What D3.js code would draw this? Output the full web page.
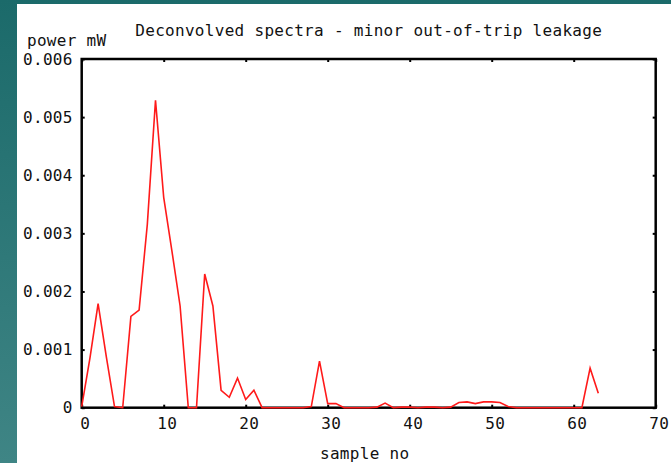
<!DOCTYPE html>
<html>
<head>
<meta charset="utf-8">
<script src="https://cdn.jsdelivr.net/npm/d3@7"></script>
<style>
  html, body { margin: 0; padding: 0; }
  body { width: 671px; height: 463px; overflow: hidden; }
  text { font-family: "DejaVu Sans Mono", "Liberation Mono", monospace; font-size: 16px; letter-spacing: 0.3px; fill: #111; }
</style>
</head>
<body>
<div id="chartCtn"></div>
<script>
// sample index and deconvolved power (mW)
var samples = d3.range( 64 );
var power = [
	0.00002, 0.00085, 0.00179, 0.00088, 0.00002, 0, 0.00157, 0.00168,
	0.00315, 0.00529, 0.00362, 0.00270, 0.00175, 0, 0, 0.00230,
	0.00175, 0.00030, 0.00018, 0.00051, 0.00014, 0.00030, 0, 0,
	0, 0, 0, 0, 0.00002, 0.00080, 0.00007, 0.00007,
	0, 0, 0, 0, 0.00001, 0.00008, 0, 0.00001,
	0.00001, 0, 0.00001, 0.00001, 0, 0.00001, 0.00009, 0.00010,
	0.00007, 0.00010, 0.00010, 0.00009, 0.00002, 0, 0, 0,
	0, 0, 0, 0, 0, 0, 0.00068, 0.00025
];
var xTicks = [ 0, 10, 20, 30, 40, 50, 60, 70 ];
var yTicks = [ 0, 0.001, 0.002, 0.003, 0.004, 0.005, 0.006 ];
var title = "Deconvolved spectra - minor out-of-trip leakage";
var xLabel = "sample no";
var yLabel = "power mW";

var width = 671, height = 463;
var plotLeft = 81.7, plotRight = 655.7, plotTop = 59, plotBottom = 407.7;

var svg = d3.select( "#chartCtn" )
	.append( "svg" )
	.attr( "width", width )
	.attr( "height", height );

var grad = svg.append( "defs" ).append( "linearGradient" )
	.attr( "id", "bg" )
	.attr( "x1", 0 ).attr( "y1", 0 ).attr( "x2", 0 ).attr( "y2", 1 );
grad.append( "stop" ).attr( "offset", 0 ).attr( "stop-color", "#1b6a6a" );
grad.append( "stop" ).attr( "offset", 1 ).attr( "stop-color", "#3f8585" );

svg.append( "rect" ).attr( "width", width ).attr( "height", height ).attr( "fill", "url(#bg)" );
svg.append( "rect" ).attr( "x", 17 ).attr( "y", 4 ).attr( "width", width - 17 ).attr( "height", height - 4 ).attr( "fill", "#fff" );

var xScale = d3.scaleLinear().domain( [ 0, 70 ] ).range( [ plotLeft, plotRight ] );
var yScale = d3.scaleLinear().domain( [ 0, 0.006 ] ).range( [ plotBottom, plotTop ] );

// axes with inward ticks
svg.append( "g" )
	.attr( "transform", `translate(0, ${ plotBottom })` )
	.call( d3.axisBottom( xScale ).tickValues( xTicks ).tickSizeInner( -3 ).tickSizeOuter( 0 ).tickPadding( 10 ).tickFormat( d3.format( "d" ) ) )
	.call( g => g.select( ".domain" ).remove() )
	.call( g => g.selectAll( "line" ).attr( "stroke", "#000" ).attr( "stroke-width", 2 ) )
	.call( g => g.selectAll( "text" ).attr( "dx", 3 ).attr( "fill", null ) )
	.attr( "font-family", null ).attr( "font-size", null );

svg.append( "g" )
	.attr( "transform", `translate(0, ${ plotTop })` )
	.call( d3.axisTop( xScale ).tickValues( xTicks ).tickSizeInner( -3 ).tickSizeOuter( 0 ).tickFormat( "" ) )
	.call( g => g.select( ".domain" ).remove() )
	.call( g => g.selectAll( "line" ).attr( "stroke", "#000" ).attr( "stroke-width", 2 ) );

svg.append( "g" )
	.attr( "transform", `translate(${ plotLeft }, 0)` )
	.call( d3.axisLeft( yScale ).tickValues( yTicks ).tickSizeInner( -3 ).tickSizeOuter( 0 ).tickPadding( 9 ).tickFormat( d => d === 0 ? "0" : d3.format( ".3f" )( d ) ) )
	.call( g => g.select( ".domain" ).remove() )
	.call( g => g.selectAll( "line" ).attr( "stroke", "#000" ).attr( "stroke-width", 2 ) )
	.call( g => g.selectAll( "text" ).attr( "fill", null ) )
	.attr( "font-family", null ).attr( "font-size", null );

svg.append( "g" )
	.attr( "transform", `translate(${ plotRight }, 0)` )
	.call( d3.axisRight( yScale ).tickValues( yTicks ).tickSizeInner( -3 ).tickSizeOuter( 0 ).tickFormat( "" ) )
	.call( g => g.select( ".domain" ).remove() )
	.call( g => g.selectAll( "line" ).attr( "stroke", "#000" ).attr( "stroke-width", 2 ) );

// frame
svg.append( "rect" )
	.attr( "x", plotLeft ).attr( "y", plotTop )
	.attr( "width", plotRight - plotLeft ).attr( "height", plotBottom - plotTop )
	.attr( "fill", "none" )
	.attr( "stroke", "#000" )
	.attr( "stroke-width", 2.5 );

var line = d3.line()
	.x( ( d, i ) => xScale( samples[i] ) )
	.y( d => yScale( d ) );

svg.append( "path" )
	.datum( power )
	.attr( "d", line )
	.attr( "fill", "none" )
	.attr( "stroke", "#ff1a1a" )
	.attr( "stroke-width", 1.6 )
	.attr( "stroke-linejoin", "miter" );

svg.append( "text" )
	.attr( "x", ( plotLeft + plotRight ) / 2 )
	.attr( "y", 36 )
	.attr( "text-anchor", "middle" )
	.text( title );

svg.append( "text" )
	.attr( "x", 27 )
	.attr( "y", 46 )
	.text( yLabel );

svg.append( "text" )
	.attr( "x", ( plotLeft + plotRight ) / 2 - 4 )
	.attr( "y", 459 )
	.attr( "text-anchor", "middle" )
	.text( xLabel );
</script>
</body>
</html>
